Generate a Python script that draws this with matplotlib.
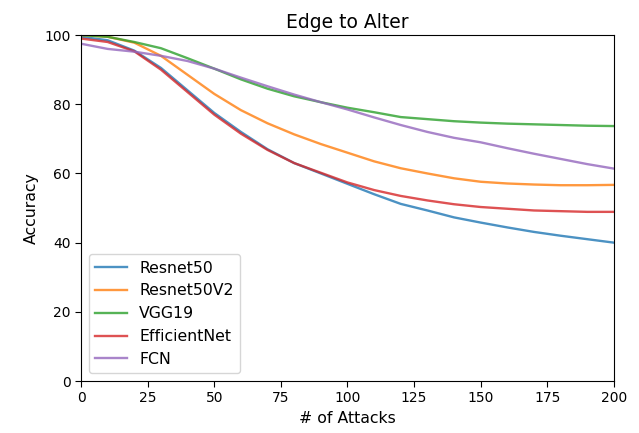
import numpy as np
import matplotlib
matplotlib.use('Agg')
import matplotlib.pyplot as plt

attacks = list(range(0, 201, 10))

resnet50 = [99.5, 98.5, 95.5, 90.5, 84.0, 77.5, 72.0, 67.0, 63.0, 60.0, 57.0,
            54.0, 51.2, 49.3, 47.3, 45.8, 44.4, 43.1, 42.0, 41.0, 40.0]
resnet50v2 = [100.0, 99.5, 97.8, 94.0, 88.5, 83.0, 78.3, 74.5, 71.3, 68.5, 66.0,
              63.5, 61.5, 60.0, 58.6, 57.6, 57.1, 56.8, 56.6, 56.6, 56.7]
vgg19 = [100.0, 99.5, 98.0, 96.2, 93.3, 90.3, 87.2, 84.5, 82.3, 80.6, 79.0,
         77.7, 76.3, 75.7, 75.1, 74.7, 74.4, 74.2, 74.0, 73.8, 73.7]
efficientnet = [99.0, 98.0, 95.3, 90.0, 83.5, 77.0, 71.5, 66.8, 63.0, 60.2, 57.4,
                55.2, 53.5, 52.2, 51.1, 50.3, 49.8, 49.3, 49.1, 48.9, 48.9]
fcn = [97.5, 96.0, 95.2, 94.0, 92.5, 90.3, 87.7, 85.2, 82.8, 80.6, 78.5,
       76.2, 74.0, 72.0, 70.3, 69.0, 67.3, 65.7, 64.2, 62.7, 61.4]

series = [('Resnet50', resnet50), ('Resnet50V2', resnet50v2), ('VGG19', vgg19),
          ('EfficientNet', efficientnet), ('FCN', fcn)]

fig = plt.figure(figsize=(6.39, 4.33), dpi=100)
ax = fig.add_axes([0.1268, 0.120, 0.834, 0.799])
for name, vals in series:
    ax.plot(attacks, vals, lw=1.7, alpha=0.8, label=name)

ax.set_xlim(0, 200)
ax.set_ylim(0, 100)
ax.set_xticks(range(0, 201, 25))
ax.set_yticks(range(0, 101, 20))
ax.tick_params(labelsize=10, length=4)
ax.set_xlabel('# of Attacks', fontsize=11.3)
ax.set_ylabel('Accuracy', fontsize=11.3)
ax.set_title('Edge to Alter', fontsize=13.5, pad=5)
ax.legend(loc='lower left', fontsize=11.3)
fig.savefig('out.png', dpi=100)
